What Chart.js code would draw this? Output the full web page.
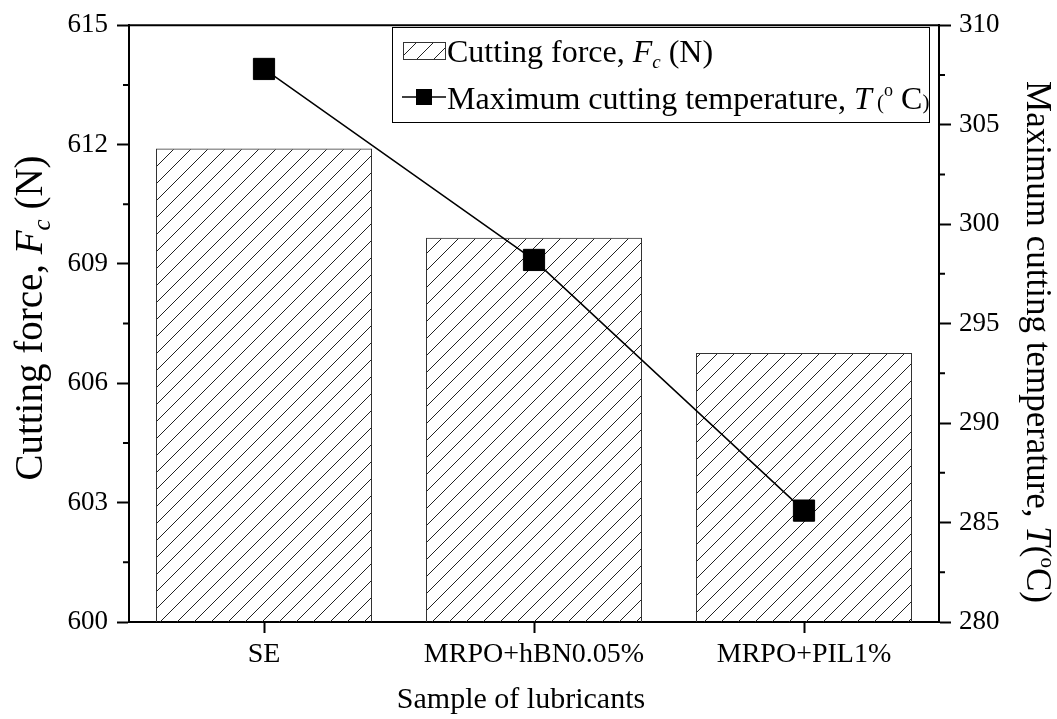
<!DOCTYPE html>
<html>
<head>
<meta charset="utf-8">
<script src="https://cdn.jsdelivr.net/npm/chart.js@4.4.1/dist/chart.umd.min.js"></script>
<style>
  body { margin: 0; background: #fff; }
  canvas { display: block; }
</style>
</head>
<body>
<canvas id="forceTempChart" width="1057" height="719"></canvas>
<script>
// valores
var categories = ['SE', 'MRPO+hBN0.05%', 'MRPO+PIL1%'];
var cuttingForce = [611.9, 609.66, 606.76];
var maxTemperature = [307.8, 298.2, 285.6];
var forceRange = [600, 615];
var forceStep = 3;
var tempRange = [280, 310];
var tempStep = 5;

var serif = "'Liberation Serif', 'Times New Roman', serif";

// padrão hachurado para as barras
function makeHatch() {
  var c = document.createElement('canvas');
  c.width = 17;
  c.height = 17;
  var g = c.getContext('2d');
  g.strokeStyle = '#222';
  g.lineWidth = 1;
  g.beginPath();
  g.moveTo(0, 17); g.lineTo(17, 0);
  g.moveTo(-2, 2); g.lineTo(2, -2);
  g.moveTo(15, 19); g.lineTo(19, 15);
  g.stroke();
  return g.createPattern(c, 'repeat');
}
var hatch = makeHatch();

// desenha texto com partes em itálico, subscrito ou sobrescrito
function drawRich(ctx, parts, x, y, align) {
  var total = 0;
  parts.forEach(function (p) {
    ctx.font = (p.italic ? 'italic ' : '') + p.size + 'px ' + serif;
    p.w = ctx.measureText(p.text).width;
    total += p.w;
  });
  var cx = align === 'left' ? x : x - total / 2;
  ctx.textBaseline = 'alphabetic';
  ctx.textAlign = 'left';
  parts.forEach(function (p) {
    ctx.font = (p.italic ? 'italic ' : '') + p.size + 'px ' + serif;
    ctx.fillText(p.text, cx, y + (p.dy || 0));
    cx += p.w;
  });
}

var extrasPlugin = {
  id: 'extras',
  afterDraw: function (chart) {
    var ctx = chart.ctx;
    var area = chart.chartArea;
    var yL = chart.scales.y;
    var yR = chart.scales.y1;
    ctx.save();
    ctx.fillStyle = '#000';
    ctx.strokeStyle = '#000';

    // linha superior do quadro
    ctx.lineWidth = 2;
    ctx.beginPath();
    ctx.moveTo(area.left - 1, area.top);
    ctx.lineTo(area.right + 1, area.top);
    ctx.stroke();

    // ticks menores
    ctx.beginPath();
    for (var v = forceRange[0] + forceStep / 2; v < forceRange[1]; v += forceStep) {
      var py = yL.getPixelForValue(v);
      ctx.moveTo(area.left - 6, py);
      ctx.lineTo(area.left, py);
    }
    for (var t = tempRange[0] + tempStep / 2; t < tempRange[1]; t += tempStep) {
      var ty = yR.getPixelForValue(t);
      ctx.moveTo(area.right, ty);
      ctx.lineTo(area.right + 6, ty);
    }
    ctx.stroke();

    // títulos dos eixos
    drawRich(ctx, [{ text: 'Sample of lubricants', size: 30 }], 521, 708);

    ctx.save();
    ctx.translate(42, 318);
    ctx.rotate(-Math.PI / 2);
    drawRich(ctx, [
      { text: 'Cutting force, ', size: 39 },
      { text: 'F', size: 39, italic: true },
      { text: 'c', size: 25, italic: true, dy: 8 },
      { text: ' (N)', size: 39 }
    ], 0, 0);
    ctx.restore();

    ctx.save();
    ctx.translate(1027, 342);
    ctx.rotate(Math.PI / 2);
    drawRich(ctx, [
      { text: 'Maximum cutting temperature, ', size: 35 },
      { text: 'T', size: 35, italic: true },
      { text: '(', size: 35 },
      { text: 'o', size: 21, dy: -14 },
      { text: 'C)', size: 35 }
    ], 0, 0);
    ctx.restore();

    // legenda
    var lx = 392, ly = 27, lw = 537, lh = 95;
    ctx.fillStyle = '#fff';
    ctx.fillRect(lx, ly, lw, lh);
    ctx.lineWidth = 1;
    ctx.strokeStyle = '#000';
    ctx.strokeRect(lx + 0.5, ly + 0.5, lw, lh);

    ctx.fillStyle = hatch;
    ctx.fillRect(403, 42, 42, 17);
    ctx.strokeStyle = '#333';
    ctx.strokeRect(403.5, 42.5, 42, 17);

    ctx.strokeStyle = '#000';
    ctx.lineWidth = 1.5;
    ctx.beginPath();
    ctx.moveTo(402, 97);
    ctx.lineTo(446, 97);
    ctx.stroke();
    ctx.fillStyle = '#000';
    ctx.fillRect(416, 89, 16, 16);

    drawRich(ctx, [
      { text: 'Cutting force, ', size: 32 },
      { text: 'F', size: 32, italic: true },
      { text: 'c', size: 19, italic: true, dy: 6 },
      { text: ' (N)', size: 32 }
    ], 447, 62, 'left');
    drawRich(ctx, [
      { text: 'Maximum cutting temperature, ', size: 32 },
      { text: 'T', size: 32, italic: true },
      { text: ' (', size: 21 },
      { text: 'o', size: 18, dy: -13 },
      { text: ' C', size: 32 },
      { text: ')', size: 21 }
    ], 447, 109, 'left');

    ctx.restore();
  }
};

var ctx = document.getElementById('forceTempChart').getContext('2d');
var forceTempChart = new Chart(ctx, {
  data: {
    labels: categories,
    datasets: [
      {
        type: 'line',
        label: 'Maximum cutting temperature, T (°C)',
        data: maxTemperature,
        yAxisID: 'y1',
        borderColor: '#000',
        borderWidth: 1.5,
        pointStyle: 'rect',
        pointRadius: 15,
        pointBackgroundColor: '#000',
        pointBorderColor: '#000',
        pointBorderWidth: 1,
        tension: 0,
        order: 0
      },
      {
        type: 'bar',
        label: 'Cutting force, Fc (N)',
        data: cuttingForce,
        yAxisID: 'y',
        backgroundColor: hatch,
        borderColor: '#333',
        borderWidth: 1,
        barPercentage: 0.8,
        categoryPercentage: 1.0,
        order: 1
      }
    ]
  },
  options: {
    responsive: false,
    animation: false,
    layout: { padding: { top: 22, left: 0, right: 0, bottom: 0 } },
    plugins: {
      legend: { display: false },
      tooltip: { enabled: false }
    },
    scales: {
      x: {
        offset: true,
        afterFit: function (scale) { scale.height = 97; },
        grid: {
          offset: false,
          drawOnChartArea: false,
          tickLength: 11,
          tickWidth: 2,
          tickColor: '#000'
        },
        border: { color: '#000', width: 2 },
        ticks: {
          color: '#000',
          padding: 5,
          maxRotation: 0,
          font: { family: serif, size: 28 }
        }
      },
      y: {
        position: 'left',
        min: forceRange[0],
        max: forceRange[1],
        afterFit: function (scale) { scale.width = 129; },
        grid: {
          drawOnChartArea: false,
          tickLength: 12,
          tickWidth: 2,
          tickColor: '#000'
        },
        border: { color: '#000', width: 2 },
        ticks: {
          stepSize: forceStep,
          color: '#000',
          padding: 9,
          font: { family: serif, size: 27 }
        }
      },
      y1: {
        position: 'right',
        min: tempRange[0],
        max: tempRange[1],
        afterFit: function (scale) { scale.width = 118; },
        grid: {
          drawOnChartArea: false,
          tickLength: 12,
          tickWidth: 2,
          tickColor: '#000'
        },
        border: { color: '#000', width: 2 },
        ticks: {
          stepSize: tempStep,
          color: '#000',
          padding: 8,
          font: { family: serif, size: 27 }
        }
      }
    }
  },
  plugins: [extrasPlugin]
});
</script>
</body>
</html>
